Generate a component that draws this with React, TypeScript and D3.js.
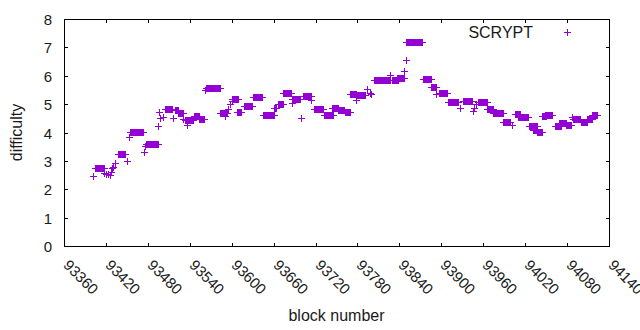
import React, { useEffect, useRef } from "react";
import * as d3 from "d3";

// difficulty runs: block range [start, end] holding one value
const runStart = [93402, 93404, 93417, 93420, 93423, 93426, 93427, 93429, 93430, 93433,
  93437, 93450, 93453, 93454, 93474, 93476, 93478, 93495, 93496, 93497,
  93502, 93505, 93516, 93519, 93523, 93531, 93533, 93536, 93546, 93553,
  93562, 93563, 93583, 93590, 93595, 93598, 93600, 93600, 93607, 93618,
  93630, 93645, 93661, 93666, 93674, 93686, 93686, 93699, 93702, 93714,
  93718, 93732, 93744, 93752, 93762, 93769, 93778, 93780, 93793, 93798,
  93800, 93804, 93827, 93829, 93837, 93846, 93850, 93849, 93874, 93885,
  93893, 93896, 93910, 93927, 93931, 93945, 93947, 93950, 93953, 93965,
  93967, 93974, 93989, 94001, 94005, 94010, 94026, 94031, 94037, 94044,
  94048, 94063, 94069, 94079, 94087, 94089, 94100, 94108, 94115];
const runEnd = [93402, 93417, 93417, 93420, 93423, 93426, 93427, 93429, 93430, 93433,
  93447, 93450, 93453, 93473, 93474, 93476, 93494, 93495, 93496, 93497,
  93502, 93515, 93516, 93523, 93530, 93531, 93545, 93536, 93553, 93560,
  93562, 93583, 93593, 93590, 93595, 93598, 93600, 93609, 93614, 93629,
  93644, 93661, 93664, 93673, 93685, 93686, 93698, 93699, 93714, 93714,
  93731, 93745, 93752, 93761, 93769, 93778, 93778, 93791, 93793, 93798,
  93800, 93826, 93827, 93838, 93846, 93846, 93850, 93873, 93885, 93892,
  93893, 93908, 93924, 93927, 93944, 93945, 93947, 93950, 93966, 93965,
  93974, 93988, 93999, 94001, 94013, 94024, 94037, 94037, 94044, 94050,
  94059, 94072, 94079, 94086, 94087, 94099, 94108, 94115, 94123];
const runDiff = [2.48, 2.74, 2.58, 2.53, 2.55, 2.51, 2.60, 2.74, 2.80, 2.92,
  3.24, 2.98, 3.84, 4.02, 3.31, 3.51, 3.61, 4.22, 4.73, 4.51,
  4.53, 4.83, 4.51, 4.78, 4.67, 4.49, 4.43, 4.28, 4.57, 4.49,
  5.49, 5.58, 4.69, 4.57, 4.83, 4.99, 5.10, 5.19, 4.71, 4.93,
  5.26, 4.61, 4.87, 4.99, 5.38, 5.05, 5.19, 4.51, 5.30, 5.16,
  4.83, 4.60, 4.87, 4.80, 4.71, 5.34, 5.16, 5.33, 5.52, 5.40,
  5.34, 5.85, 6.01, 5.85, 5.93, 6.17, 6.55, 7.19, 5.89, 5.61,
  5.34, 5.40, 5.08, 4.87, 5.12, 4.75, 4.87, 4.99, 5.08, 4.83,
  4.83, 4.69, 4.37, 4.25, 4.66, 4.53, 4.22, 4.10, 4.03, 4.57,
  4.60, 4.22, 4.34, 4.27, 4.55, 4.49, 4.37, 4.48, 4.60];

const xTicks = [93360, 93420, 93480, 93540, 93600, 93660, 93720, 93780, 93840, 93900, 93960, 94020, 94080, 94140];
const yTicks = [0, 1, 2, 3, 4, 5, 6, 7, 8];
const seriesName = "SCRYPT";

const W = 640, H = 330;
const plot = { left: 64, right: 609, top: 19, bottom: 246 };
const purple = "#9400d3";
const font = "'Liberation Sans', Arial, sans-serif";

function plus(g, cx, cy, h = 3.5) {
  const x = Math.round(cx) + 0.5, y = Math.round(cy) + 0.5;
  g.append("path")
    .attr("d", `M${x - h},${y}H${x + h}M${x},${y - h}V${y + h}`)
    .attr("stroke", purple).attr("stroke-width", 1).attr("fill", "none");
}

const App = () => {
  const svgRef = useRef(null);

  useEffect(() => {
    const svg = d3.select(svgRef.current);
    svg.selectAll("*").remove();

    const x = d3.scaleLinear().domain([93360, 94140]).range([plot.left, plot.right]);
    const y = d3.scaleLinear().domain([0, 8]).range([plot.bottom, plot.top]);

    // points: one per block inside each run
    const pts = svg.append("g").attr("shape-rendering", "crispEdges");
    runStart.forEach((s, i) => {
      for (let b = s; b <= runEnd[i]; b++) plus(pts, x(b), y(runDiff[i]));
    });

    // frame
    svg.append("rect")
      .attr("x", plot.left + 0.5).attr("y", plot.top + 0.5)
      .attr("width", plot.right - plot.left).attr("height", plot.bottom - plot.top)
      .attr("fill", "none").attr("stroke", "#000").attr("shape-rendering", "crispEdges");

    const tk = svg.append("g").attr("stroke", "#000").attr("shape-rendering", "crispEdges");
    yTicks.forEach(t => {
      const yy = Math.round(y(t)) + 0.5;
      tk.append("path").attr("d", `M${plot.left},${yy}h4M${plot.right + 1},${yy}h-4`);
      svg.append("text")
        .attr("x", plot.left - 12).attr("y", yy).attr("dy", "0.36em")
        .attr("text-anchor", "end").attr("font-family", font).attr("font-size", 15)
        .attr("fill", "#1a1a1a").text(t);
    });
    xTicks.forEach(t => {
      const xx = Math.round(x(t)) + 0.5;
      tk.append("path").attr("d", `M${xx},${plot.bottom + 1}v-4M${xx},${plot.top}v4`);
      svg.append("text")
        .attr("transform", `translate(${xx - 2},${plot.bottom + 20}) rotate(45)`)
        .attr("font-family", font).attr("font-size", 15)
        .attr("fill", "#1a1a1a").text(t);
    });

    // axis titles
    svg.append("text")
      .attr("transform", `translate(22,${(plot.top + plot.bottom) / 2}) rotate(-90)`)
      .attr("text-anchor", "middle").attr("font-family", font).attr("font-size", 16)
      .attr("fill", "#1a1a1a").text("difficulty");
    svg.append("text")
      .attr("x", (plot.left + plot.right) / 2).attr("y", 321)
      .attr("text-anchor", "middle").attr("font-family", font).attr("font-size", 16)
      .attr("fill", "#1a1a1a").text("block number");

    // legend
    svg.append("text")
      .attr("x", 533).attr("y", 32).attr("dy", "0.36em")
      .attr("text-anchor", "end").attr("font-family", font).attr("font-size", 16)
      .attr("fill", "#1a1a1a").text(seriesName);
    plus(svg.append("g").attr("shape-rendering", "crispEdges"), 567, 32);
  }, []);

  return (
    <svg ref={svgRef} width={W} height={H}
      style={{ position: "absolute", left: 0, top: 0, background: "#fff" }} />
  );
};

export default App;
